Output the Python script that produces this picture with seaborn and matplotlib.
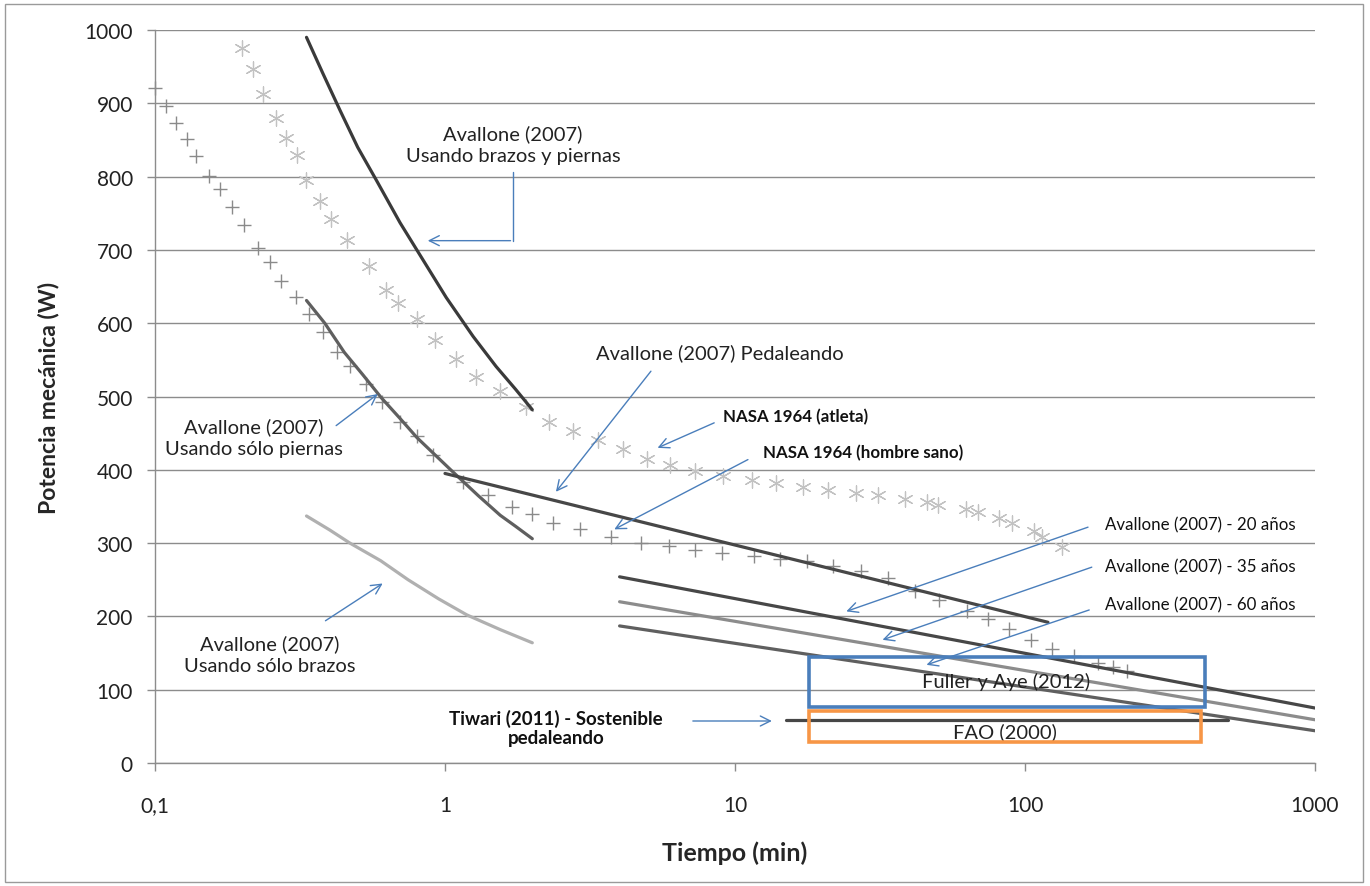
import matplotlib
matplotlib.use("Agg")
import matplotlib.pyplot as plt
from matplotlib.patches import Rectangle
import numpy as np
import pandas as pd
import seaborn as sns

# NASA 1964 (hombre sano) - "+" markers
sano_t = [0.1, 0.109, 0.118, 0.129, 0.139, 0.154, 0.168, 0.185, 0.202, 0.227, 0.249, 0.272,
          0.306, 0.339, 0.381, 0.425, 0.472, 0.536, 0.604, 0.697, 0.801, 0.91, 1.15, 1.41,
          1.70, 1.99, 2.36, 2.92, 3.73, 4.73, 5.93, 7.28, 9.0, 11.6, 14.3, 17.7, 21.8, 27.2,
          33.6, 41.9, 50.7, 63.3, 74.5, 88.4, 105, 124, 148, 178, 201, 225]
sano_p = [921, 896, 873, 851, 828, 801, 783, 758, 734, 703, 683, 658,
          636, 613, 588, 561, 541, 517, 492, 465, 446, 420, 384, 365,
          349, 340, 327, 319, 309, 300, 296, 290, 287, 282, 278, 275, 269, 262,
          253, 235, 223, 208, 196, 183, 168, 155, 146, 137, 131, 125]

# NASA 1964 (atleta) - asterisk markers
atleta_t = [0.2, 0.217, 0.236, 0.261, 0.284, 0.309, 0.332, 0.371, 0.406, 0.458, 0.548, 0.626,
            0.69, 0.8, 0.923, 1.09, 1.28, 1.55, 1.91, 2.29, 2.76, 3.37, 4.1, 4.97, 5.98,
            7.28, 9.07, 11.4, 13.8, 17.2, 21.0, 26.2, 31.2, 38.6, 45.9, 50.2, 62.7, 68.7,
            81.2, 90.4, 107, 114, 134]
atleta_p = [976, 947, 913, 880, 853, 830, 796, 767, 742, 713, 678, 645,
            628, 606, 577, 551, 526, 508, 485, 465, 453, 440, 428, 415, 406,
            399, 392, 386, 382, 376, 372, 369, 365, 360, 356, 352, 346, 342,
            334, 327, 317, 309, 294]

# Avallone (2007) curves
brazos_piernas_t = [0.333, 0.38, 0.435, 0.5, 0.58, 0.7, 0.814, 1.01, 1.25, 1.5, 1.75, 2.0]
brazos_piernas_p = [990, 940, 890, 840, 795, 737, 695, 635, 582, 541, 510, 482]
piernas_t = [0.333, 0.385, 0.45, 0.52, 0.604, 0.7, 0.8, 1.046, 1.3, 1.55, 1.75, 2.0]
piernas_p = [631, 600, 560, 530, 498, 470, 444, 400, 365, 338, 323, 306]
brazos_t = [0.333, 0.4, 0.47, 0.6, 0.746, 0.95, 1.19, 1.55, 2.0]
brazos_p = [337, 318, 300, 276, 250, 224, 202, 182, 164]
pedal_t = [1, 120]
pedal_p = [395, 192]
edad_t = [4, 1000]
edad20_p = [254, 75]
edad35_p = [220, 59]
edad60_p = [187, 44]

# Tiwari (2011) sostenible
tiwari_t = [15, 500]
tiwari_p = [59, 59]

# boxes: (t_min, t_max, p_min, p_max)
fuller_box = (18, 416, 77, 145)
fao_box = (18, 406, 28, 71)

x_ticks = [0.1, 1, 10, 100, 1000]
x_labels = ["0,1", "1", "10", "100", "1000"]

sns.set_theme(style="white")
plt.rcParams["font.family"] = ["Lato", "DejaVu Sans"]

fig = plt.figure(figsize=(13.7, 8.87), dpi=100)
ax = fig.add_axes([155 / 1370, 1 - 764 / 887, 1160 / 1370, 733 / 887])

arrow_c = "#4a7ebb"
grid_c = "#8c8c8c"

sns.scatterplot(x=sano_t, y=sano_p, marker="+", s=110, color="#8a8a8a", linewidth=1.0,
                clip_on=False, ax=ax)
sns.scatterplot(x=atleta_t, y=atleta_p, marker=(6, 2, 0), s=120, color="#c2c2c2",
                linewidth=0.9, ax=ax)

lines = [
    (brazos_piernas_t, brazos_piernas_p, "#3a3a3a"),
    (piernas_t, piernas_p, "#5f5f5f"),
    (brazos_t, brazos_p, "#b0b0b0"),
    (pedal_t, pedal_p, "#474747"),
    (edad_t, edad20_p, "#474747"),
    (edad_t, edad35_p, "#8c8c8c"),
    (edad_t, edad60_p, "#5f5f5f"),
    (tiwari_t, tiwari_p, "#474747"),
]
for t, p, c in lines:
    df = pd.DataFrame({"t": t, "p": p})
    sns.lineplot(data=df, x="t", y="p", color=c, linewidth=2.3, estimator=None, ax=ax)

for (t0, t1, p0, p1), c in [(fuller_box, "#4a7ebb"), (fao_box, "#f79646")]:
    ax.add_patch(Rectangle((t0, p0), t1 - t0, p1 - p0, fill=False, edgecolor=c,
                           linewidth=2.6, zorder=4))

ax.set_xscale("log")
ax.set_xlim(0.1, 1000)
ax.set_ylim(0, 1000)
ax.set_xticks(x_ticks)
ax.set_xticklabels(x_labels)
ax.xaxis.set_minor_locator(matplotlib.ticker.NullLocator())
ax.set_yticks(np.arange(0, 1001, 100))
ax.tick_params(axis="both", labelsize=15, colors=grid_c, labelcolor="#222222",
               length=6, width=1, direction="out", bottom=True, left=True)
ax.tick_params(axis="x", pad=17)
ax.tick_params(axis="y", pad=10)
ax.grid(axis="y", color=grid_c, linewidth=1)
ax.grid(axis="x", visible=False)
for side in ["top", "right"]:
    ax.spines[side].set_visible(False)
for side in ["left", "bottom"]:
    ax.spines[side].set_color(grid_c)
    ax.spines[side].set_linewidth(1)

ax.set_xlabel("Tiempo (min)", fontsize=18, fontweight="bold", labelpad=18)
ax.set_ylabel("Potencia mecánica (W)", fontsize=16.5, fontweight="bold", labelpad=18)

txt = dict(fontsize=14.5, color="#222222", linespacing=1.35)
small = dict(fontsize=12.2, color="#111111")
arrow = dict(arrowstyle="->", color=arrow_c, lw=1.0, mutation_scale=18)

ax.text(1.716, 844.5, "Avallone (2007)\nUsando brazos y piernas", ha="center", va="center", **txt)
ax.plot([1.72, 1.72], [806, 712.6], color=arrow_c, lw=1.0)
ax.annotate("", xy=(0.853, 712.6), xytext=(1.72, 712.6), arrowprops=arrow)

ax.text(8.86, 560.3, "Avallone (2007) Pedaleando", ha="center", va="center", **txt)
ax.annotate("", xy=(2.38, 367), xytext=(5.2, 537.5), arrowprops=arrow)

ax.text(9.09, 473, "NASA 1964 (atleta)", ha="left", va="center", fontweight="bold", **small)
ax.annotate("", xy=(5.30, 428.4), xytext=(8.65, 465.6), arrowprops=arrow)

ax.text(12.46, 424.7, "NASA 1964 (hombre sano)", ha="left", va="center", fontweight="bold", **small)
ax.annotate("", xy=(3.76, 317), xytext=(11.3, 415.7), arrowprops=arrow)

ax.text(0.2196, 444.7, "Avallone (2007)\nUsando sólo piernas", ha="center", va="center", **txt)
ax.annotate("", xy=(0.597, 505.7), xytext=(0.414, 458), arrowprops=arrow)

ax.text(0.249, 148, "Avallone (2007)\nUsando sólo brazos", ha="center", va="center", **txt)
ax.annotate("", xy=(0.621, 247), xytext=(0.38, 192), arrowprops=arrow)

ax.text(188.7, 326, "Avallone (2007) - 20 años", ha="left", va="center", **small)
ax.annotate("", xy=(23.7, 205.6), xytext=(168.4, 323), arrowprops=arrow)
ax.text(188.7, 268.4, "Avallone (2007) - 35 años", ha="left", va="center", **small)
ax.annotate("", xy=(31.6, 166.8), xytext=(173.5, 268.4), arrowprops=arrow)
ax.text(188.7, 217, "Avallone (2007) - 60 años", ha="left", va="center", **small)
ax.annotate("", xy=(44.8, 132.7), xytext=(170, 210), arrowprops=arrow)

ax.text(86, 112.3, "Fuller y Aye (2012)", ha="center", va="center", **txt)
ax.text(85.3, 42.7, "FAO (2000)", ha="center", va="center", **txt)

ax.text(2.41, 48.4, "Tiwari (2011) - Sostenible\npedaleando", ha="center", va="center",
        fontweight="bold", fontsize=13.5, color="#111111", linespacing=1.2)
ax.annotate("", xy=(13.7, 57.3), xytext=(7.0, 57.3), arrowprops=arrow)

fig.patches.append(Rectangle((5 / 1370, 1 - 883 / 887), 1358 / 1370, 878 / 887, fill=False,
                             edgecolor="#9a9a9a", linewidth=1, transform=fig.transFigure))

fig.savefig("out.png", dpi=100)
